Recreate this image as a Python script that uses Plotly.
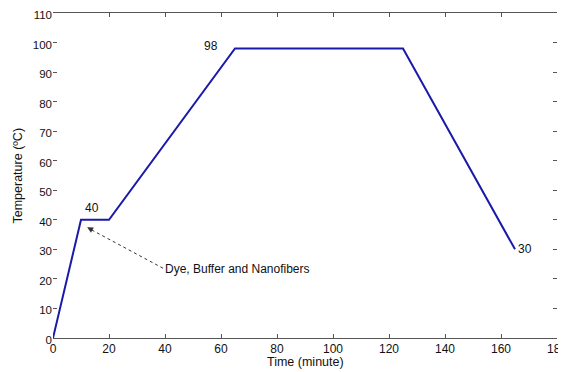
import plotly.graph_objects as go

time_min = [0, 10, 20, 65, 125, 165]
temperature = [0, 40, 40, 98, 98, 30]

x_ticks = [0, 20, 40, 60, 80, 100, 120, 140, 160, 180]
y_ticks = [0, 10, 20, 30, 40, 50, 60, 70, 80, 90, 100, 110]

labels = [("40", 14, 44), ("98", 56.5, 99), ("30", 168.5, 30)]
note_text = "Dye, Buffer and Nanofibers"
x_title = "Time (minute)"
y_title = "Temperature (\u00baC)"

FONT = "Liberation Sans, Arial, Helvetica, sans-serif"

fig = go.Figure()
fig.add_trace(go.Scatter(x=time_min, y=temperature, mode="lines",
                         line=dict(color="#1a1aa8", width=2), showlegend=False,
                         hoverinfo="skip"))

for t, x, y in labels:
    fig.add_annotation(x=x, y=y, text=t, showarrow=False,
                       font=dict(size=12, color="#111", family=FONT))

fig.add_annotation(x=39.3, y=23.3, text=note_text, showarrow=False, xanchor="left",
                   font=dict(size=12, color="#111", family=FONT))
# dotted arrow shaft
fig.add_shape(type="line", x0=39.3, y0=23.6, x1=13.0, y1=37.0,
              line=dict(color="#333", width=1, dash="dot"))
# arrow head
fig.add_annotation(x=12.2, y=37.5, ax=14.5, ay=36.3, axref="x", ayref="y",
                   text="", showarrow=True, arrowhead=2, arrowsize=1.2,
                   arrowwidth=1, arrowcolor="#333")

# axis titles as annotations for precise placement
fig.add_annotation(x=0.5, y=-0.0736, xref="paper", yref="paper", yanchor="middle",
                   text=x_title, showarrow=False,
                   font=dict(size=12.5, family=FONT, color="#111"))
fig.add_annotation(x=-0.0714, y=0.5, xref="paper", yref="paper", xanchor="center",
                   text=y_title, showarrow=False, textangle=-90,
                   font=dict(size=12.5, family=FONT, color="#111"))

fig.update_xaxes(range=[0, 180], tickvals=x_ticks, ticks="inside", ticklen=4,
                 tickcolor="#555", showline=True, linecolor="#555", linewidth=1,
                 mirror="ticks", showgrid=False, zeroline=False, automargin=False,
                 ticklabeloverflow="allow",
                 tickfont=dict(size=12, family=FONT, color="#111"))
fig.update_yaxes(range=[0, 110], tickvals=y_ticks, ticks="inside", ticklen=4,
                 tickcolor="#555", showline=False, mirror="ticks",
                 showgrid=False, zeroline=False, automargin=False,
                 ticklabeloverflow="allow", ticklabelshift=2,
                 tickfont=dict(size=11.5, family=FONT, color="#111"))

# page body adds an 8px offset, so the figure is sized to fill the rest of the window
fig.update_layout(width=558, height=364, plot_bgcolor="white", paper_bgcolor="white",
                  margin=dict(l=45, r=9, t=5, b=34))

fig.write_html("out.html")
